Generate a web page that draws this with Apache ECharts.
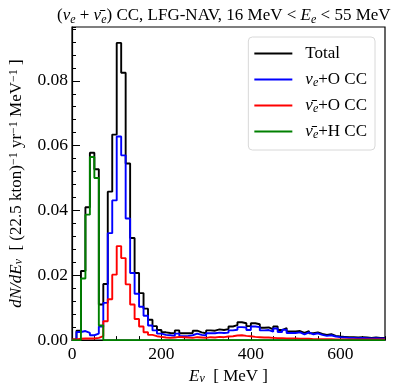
<!DOCTYPE html>
<html>
<head>
<meta charset="utf-8">
<script src="https://cdn.jsdelivr.net/npm/echarts@6/dist/echarts.min.js"></script>
<style>
  html, body { margin: 0; padding: 0; background: #fff; }
  #chart { width: 406px; height: 390px; }
</style>
</head>
<body>
<div id="chart"></div>
<script>
// histogram bins: 10 MeV wide, 0..700 MeV (value = bin content, dN/dE)
const binWidth = 10
const xTicks = [0, 200, 400, 600]

const total = [
  0.0002, 0.0029, 0.0213, 0.0410, 0.0578, 0.0527, 0.0110, 0.0173, 0.0458, 0.0634,
  0.0917, 0.0825, 0.0545, 0.0315, 0.0207, 0.0145, 0.0097, 0.0063, 0.0043, 0.0031,
  0.0024, 0.0022, 0.0021, 0.0030, 0.0021, 0.0021, 0.0022, 0.0029, 0.0024, 0.0021,
  0.0030, 0.0029, 0.0033, 0.0031, 0.0034, 0.0042, 0.0046, 0.0055, 0.0052, 0.0043,
  0.0052, 0.0049, 0.0038, 0.0039, 0.0033, 0.0042, 0.0031, 0.0037, 0.0027, 0.0027,
  0.0028, 0.0022, 0.0028, 0.0021, 0.0024, 0.0019, 0.0016, 0.0018, 0.0013, 0.0011,
  0.0010, 0.0009, 0.0009, 0.0008, 0.0009, 0.0008, 0.0007, 0.0008, 0.0007, 0.0007
]
const nueO = [
  0.0000, 0.0025, 0.0028, 0.0022, 0.0015, 0.0020, 0.0042, 0.0115, 0.0330, 0.0431,
  0.0628, 0.0570, 0.0375, 0.0207, 0.0143, 0.0103, 0.0075, 0.0045, 0.0030, 0.0020,
  0.0016, 0.0015, 0.0013, 0.0020, 0.0012, 0.0013, 0.0015, 0.0020, 0.0016, 0.0014,
  0.0021, 0.0021, 0.0023, 0.0022, 0.0023, 0.0030, 0.0032, 0.0040, 0.0039, 0.0031,
  0.0042, 0.0040, 0.0030, 0.0031, 0.0026, 0.0036, 0.0025, 0.0032, 0.0022, 0.0022,
  0.0024, 0.0018, 0.0024, 0.0018, 0.0021, 0.0016, 0.0013, 0.0015, 0.0011, 0.0009,
  0.0008, 0.0007, 0.0007, 0.0006, 0.0007, 0.0006, 0.0005, 0.0006, 0.0005, 0.0005
]
const nuebarO = [
  0.0002, 0.0004, 0.0005, 0.0005, 0.0005, 0.0007, 0.0012, 0.0058, 0.0126, 0.0202,
  0.0290, 0.0253, 0.0172, 0.0110, 0.0065, 0.0042, 0.0024, 0.0016, 0.0012, 0.0010,
  0.0008, 0.0007, 0.0008, 0.0010, 0.0009, 0.0008, 0.0007, 0.0009, 0.0008, 0.0007,
  0.0009, 0.0008, 0.0010, 0.0009, 0.0011, 0.0012, 0.0014, 0.0015, 0.0013, 0.0012,
  0.0010, 0.0009, 0.0008, 0.0008, 0.0007, 0.0006, 0.0006, 0.0005, 0.0005, 0.0005,
  0.0004, 0.0004, 0.0004, 0.0003, 0.0003, 0.0003, 0.0003, 0.0003, 0.0002, 0.0002,
  0.0002, 0.0002, 0.0002, 0.0002, 0.0002, 0.0002, 0.0002, 0.0002, 0.0002, 0.0002
]
const nuebarH = [
  0.0000, 0.0000, 0.0190, 0.0387, 0.0565, 0.0500, 0.0045, 0.0000, 0.0000, 0.0000,
  0, 0, 0, 0, 0, 0, 0, 0, 0, 0,
  0, 0, 0, 0, 0, 0, 0, 0, 0, 0,
  0, 0, 0, 0, 0, 0, 0, 0, 0, 0,
  0, 0, 0, 0, 0, 0, 0, 0, 0, 0,
  0, 0, 0, 0, 0, 0, 0, 0, 0, 0,
  0, 0, 0, 0, 0, 0, 0, 0, 0, 0
]

const seriesNames = ['Total', 'nueO', 'nuebarO', 'nuebarH']
const seriesColors = ['#000000', '#0000ff', '#ff0000', '#008000']
const legendLabels = {
  Total: 'Total',
  nueO: '{it|ν}{sub|e}+O CC',
  nuebarO: '{it|ν̄}{sub|e}+O CC',
  nuebarH: '{it|ν̄}{sub|e}+H CC'
}

const font = 'Liberation Serif'
function richSet(size) {
  return {
    it: { fontFamily: font, fontStyle: 'italic', fontSize: size },
    sub: { fontFamily: font, fontStyle: 'italic', fontSize: Math.round(size * 0.7), verticalAlign: 'bottom', lineHeight: 10 },
    sup: { fontFamily: font, fontSize: Math.round(size * 0.72), verticalAlign: 'top', lineHeight: 10 }
  }
}

// step outline: point at each left bin edge, last point closes the final bin
function toSteps(vals) {
  const pts = vals.map((v, i) => [i * binWidth, v])
  pts.push([vals.length * binWidth, vals[vals.length - 1]])
  return pts
}

const chart = echarts.init(document.getElementById('chart'))

const allData = [total, nueO, nuebarO, nuebarH]
const series = allData.map((vals, i) => ({
  name: seriesNames[i],
  type: 'line',
  step: 'end',
  symbol: 'none',
  clip: true,
  xAxisIndex: 0,
  yAxisIndex: 0,
  lineStyle: { color: seriesColors[i], width: 1.9 },
  itemStyle: { color: seriesColors[i] },
  data: toSteps(vals),
  animation: false,
  z: 2 + i
}))

chart.setOption({
  animation: false,
  textStyle: { fontFamily: font },
  title: {
    text: '({it|ν}{sub|e} + {it|ν̄}{sub|e}) CC, LFG-NAV, 16 MeV < {it|E}{sub|e} < 55 MeV',
    left: 52,
    top: 1,
    textStyle: {
      fontFamily: font, fontSize: 17, fontWeight: 'normal', color: '#000', lineHeight: 20,
      rich: richSet(17)
    }
  },
  grid: {
    left: 69, right: 21, top: 27, bottom: 47,
    show: true, borderColor: '#000', borderWidth: 1.2, backgroundColor: 'transparent'
  },
  legend: {
    orient: 'vertical',
    right: 31,
    top: 37,
    data: seriesNames,
    icon: 'rect',
    itemWidth: 38,
    itemHeight: 2,
    itemGap: 7,
    padding: [7, 8, 9, 6],
    borderColor: '#d8d8d8',
    borderWidth: 1,
    borderRadius: 4,
    backgroundColor: 'rgba(255,255,255,0.8)',
    formatter: name => legendLabels[name],
    textStyle: {
      fontFamily: font, fontSize: 17, color: '#000', lineHeight: 19,
      padding: [0, 0, 0, 8],
      rich: richSet(17)
    }
  },
  xAxis: [{
    type: 'value',
    min: 0, max: 700, interval: 200,
    name: '{it|E}{sub|ν}  [ MeV ]',
    nameLocation: 'middle',
    nameGap: 17,
    nameTextStyle: { fontFamily: font, fontSize: 17, color: '#000', rich: richSet(17) },
    axisLine: { lineStyle: { color: '#000', width: 1.2 } },
    axisTick: { inside: true, length: 8, lineStyle: { color: '#000', width: 1 } },
    axisLabel: {
      fontFamily: font, fontSize: 17.5, color: '#000', margin: 5,
      showMaxLabel: false,
      formatter: v => (xTicks.indexOf(v) >= 0 ? String(v) : '')
    },
    splitLine: { show: false }
  }, {
    type: 'value',
    min: 0, max: 700, interval: 50,
    position: 'bottom',
    axisLine: { show: false },
    axisTick: { inside: true, length: 4, lineStyle: { color: '#000', width: 1 } },
    axisLabel: { show: false },
    splitLine: { show: false }
  }],
  yAxis: [{
    type: 'value',
    min: 0, max: 0.0966, interval: 0.02,
    name: '{it|dN/dE}{sub|ν}  [ (22.5 kton){sup|−1} yr{sup|−1} MeV{sup|−1} ]',
    nameLocation: 'middle',
    nameRotate: 90,
    nameGap: 47,
    nameTextStyle: { fontFamily: font, fontSize: 17, color: '#000', rich: richSet(17) },
    axisLine: { lineStyle: { color: '#000', width: 1.2 } },
    axisTick: { inside: true, length: 8, lineStyle: { color: '#000', width: 1 } },
    axisLabel: {
      fontFamily: font, fontSize: 17.5, color: '#000', margin: 4,
      showMaxLabel: false,
      formatter: v => v.toFixed(2)
    },
    splitLine: { show: false }
  }, {
    type: 'value',
    min: 0, max: 0.0966, interval: 0.004,
    position: 'left',
    axisLine: { show: false },
    axisTick: { inside: true, length: 4, lineStyle: { color: '#000', width: 1 } },
    axisLabel: { show: false },
    splitLine: { show: false }
  }],
  series: series
})
</script>
</body>
</html>
